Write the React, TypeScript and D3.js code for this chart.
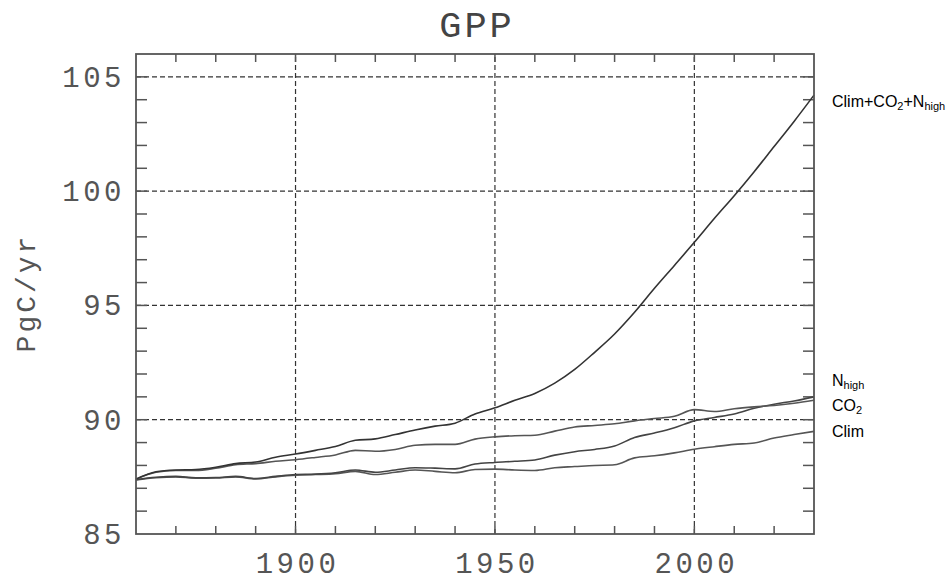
import { useRef, useEffect } from 'react';
import * as d3 from 'd3';

const years = d3.range(1860, 2031, 5);

const allForcing = [
  87.40, 87.72, 87.80, 87.82, 87.92, 88.08, 88.15, 88.36, 88.50, 88.66,
  88.83, 89.10, 89.16, 89.35, 89.55, 89.72, 89.85, 90.25, 90.52, 90.85,
  91.15, 91.60, 92.20, 92.95, 93.75, 94.70, 95.75, 96.75, 97.76, 98.80,
  99.80, 100.85, 101.95, 103.05, 104.20,
];
const nHigh = [
  87.40, 87.70, 87.78, 87.78, 87.88, 88.03, 88.08, 88.18, 88.25, 88.35,
  88.46, 88.66, 88.62, 88.70, 88.88, 88.92, 88.92, 89.15, 89.25, 89.30,
  89.32, 89.50, 89.68, 89.75, 89.82, 89.95, 90.05, 90.15, 90.44, 90.36,
  90.48, 90.56, 90.62, 90.72, 90.85,
];
const co2 = [
  87.38, 87.48, 87.52, 87.46, 87.47, 87.52, 87.43, 87.52, 87.60, 87.62,
  87.68, 87.80, 87.70, 87.80, 87.90, 87.88, 87.85, 88.06, 88.13, 88.18,
  88.24, 88.45, 88.60, 88.70, 88.85, 89.22, 89.42, 89.65, 89.95, 90.10,
  90.25, 90.50, 90.68, 90.82, 91.00,
];
const clim = [
  87.36, 87.46, 87.50, 87.44, 87.45, 87.50, 87.41, 87.50, 87.57, 87.60,
  87.64, 87.74, 87.60, 87.70, 87.80, 87.74, 87.68, 87.82, 87.84, 87.80,
  87.78, 87.90, 87.95, 88.00, 88.03, 88.33, 88.42, 88.55, 88.71, 88.82,
  88.92, 88.98, 89.20, 89.35, 89.49,
];

const xMajor = [1900, 1950, 2000];
const yMajor = [85, 90, 95, 100, 105];

// label pieces: [text, isSubscript]
const seriesLabels: { name: string; parts: [string, boolean][]; values: number[]; color: string; labelY: number }[] = [
  { name: 'all', parts: [['Clim+CO', false], ['2', true], ['+N', false], ['high', true]], values: allForcing, color: '#333', labelY: 107 },
  { name: 'nhigh', parts: [['N', false], ['high', true]], values: nHigh, color: '#555', labelY: 386 },
  { name: 'co2', parts: [['CO', false], ['2', true]], values: co2, color: '#444', labelY: 411 },
  { name: 'clim', parts: [['Clim', false]], values: clim, color: '#555', labelY: 437 },
];

export default function App() {
  const svgRef = useRef<SVGSVGElement>(null);

  useEffect(() => {
    const width = 951;
    const height = 582;
    const margin = { top: 54, right: 137, bottom: 48, left: 136 };
    const mono = '"Liberation Mono", "DejaVu Sans Mono", monospace';

    const svg = d3.select(svgRef.current);
    svg.selectAll('*').remove();
    svg.attr('width', width).attr('height', height);

    const x = d3.scaleLinear().domain([1860, 2030]).range([margin.left, width - margin.right]);
    const y = d3.scaleLinear().domain([85, 106]).range([height - margin.bottom, margin.top]);
    const [x0, x1] = x.range();
    const [y0, y1] = y.range();

    // grid
    svg.append('g').selectAll('line')
      .data(yMajor.filter(d => d > 85))
      .join('line')
      .attr('x1', x0).attr('x2', x1)
      .attr('y1', d => y(d)).attr('y2', d => y(d))
      .attr('stroke', '#333').attr('stroke-width', 1.2).attr('stroke-dasharray', '5,3');
    svg.append('g').selectAll('line')
      .data(xMajor)
      .join('line')
      .attr('x1', d => x(d)).attr('x2', d => x(d))
      .attr('y1', y0).attr('y2', y1)
      .attr('stroke', '#333').attr('stroke-width', 1.2).attr('stroke-dasharray', '5,3');

    // minor ticks
    const ticks = svg.append('g').attr('stroke', '#555').attr('stroke-width', 1.5);
    d3.range(1870, 2030, 10).forEach(t => {
      ticks.append('line').attr('x1', x(t)).attr('x2', x(t)).attr('y1', y0).attr('y2', y0 - 8);
      ticks.append('line').attr('x1', x(t)).attr('x2', x(t)).attr('y1', y1).attr('y2', y1 + 8);
    });
    d3.range(86, 106).forEach(t => {
      ticks.append('line').attr('x1', x0).attr('x2', x0 + 11).attr('y1', y(t)).attr('y2', y(t));
      ticks.append('line').attr('x1', x1).attr('x2', x1 - 11).attr('y1', y(t)).attr('y2', y(t));
    });

    // lines
    const line = d3.line<number>()
      .x((_, i) => x(years[i]))
      .y(d => y(d))
      .curve(d3.curveMonotoneX);
    seriesLabels.slice().reverse().forEach(s => {
      svg.append('path')
        .attr('d', line(s.values))
        .attr('fill', 'none')
        .attr('stroke', s.color)
        .attr('stroke-width', 1.6);
    });

    // frame
    svg.append('rect')
      .attr('x', x0).attr('y', y1)
      .attr('width', x1 - x0).attr('height', y0 - y1)
      .attr('fill', 'none').attr('stroke', '#555').attr('stroke-width', 1.8);

    // tick labels
    svg.append('g').selectAll('text')
      .data(xMajor)
      .join('text')
      .attr('x', d => x(d) + 2)
      .attr('y', 573)
      .attr('text-anchor', 'middle')
      .attr('font-family', mono).attr('font-size', 29).attr('letter-spacing', 3.5)
      .attr('fill', '#555')
      .text(d => d);
    svg.append('g').selectAll('text')
      .data(yMajor)
      .join('text')
      .attr('x', 125)
      .attr('y', d => y(d) + 10)
      .attr('text-anchor', 'end')
      .attr('font-family', mono).attr('font-size', 29).attr('letter-spacing', 3.5)
      .attr('fill', '#555')
      .text(d => d);

    // title and axis label
    svg.append('text')
      .attr('x', (x0 + x1) / 2 + 2).attr('y', 37)
      .attr('text-anchor', 'middle')
      .attr('font-family', mono).attr('font-size', 37).attr('letter-spacing', 3)
      .attr('fill', '#444')
      .text('GPP');
    svg.append('text')
      .attr('transform', 'translate(35,293) rotate(-90)')
      .attr('text-anchor', 'middle')
      .attr('font-family', mono).attr('font-size', 28).attr('letter-spacing', 3)
      .attr('fill', '#555')
      .text('PgC/yr');

    // series labels
    seriesLabels.forEach(s => {
      const t = svg.append('text')
        .attr('x', 832).attr('y', s.labelY)
        .attr('font-family', 'Arial, "Liberation Sans", sans-serif')
        .attr('font-size', 16).attr('fill', '#000');
      s.parts.forEach(([txt, sub], i) => {
        const prevSub = i > 0 && s.parts[i - 1][1];
        t.append('tspan')
          .attr('font-size', sub ? 11 : 16)
          .attr('dy', sub ? 3 : prevSub ? -3 : 0)
          .text(txt);
      });
    });
  }, []);

  return (
    <div style={{ position: 'absolute', left: 0, top: 0 }}>
      <svg ref={svgRef} style={{ display: 'block', background: '#fff' }} />
    </div>
  );
}
